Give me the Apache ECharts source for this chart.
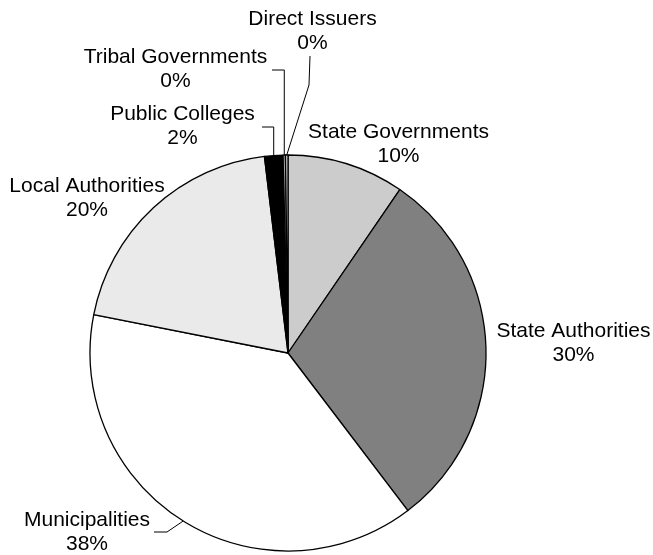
<!DOCTYPE html>
<html>
<head>
<meta charset="utf-8">
<script src="https://cdn.jsdelivr.net/npm/echarts@6/dist/echarts.min.js"></script>
<style>
  html, body { margin: 0; padding: 0; background: #ffffff; }
  #chart { width: 653px; height: 555px; }
</style>
</head>
<body>
<div id="chart"></div>
<script>
// Issuer categories, clockwise from twelve o'clock
const categories = [
  'State Governments',
  'State Authorities',
  'Municipalities',
  'Local Authorities',
  'Public Colleges',
  'Tribal Governments',
  'Direct Issuers'
];
// Share of issuance (percent)
const shares = [9.55, 30.1, 38.45, 20.0, 1.5, 0.2, 0.2];
// Slice fills
const fills = ['#cccccc', '#808080', '#ffffff', '#eaeaea', '#000000', '#a0a0a0', '#e0e0e0'];

// Where each two-line label sits (centre of text block)
const labelSpots = [
  [398.5, 144.5],
  [573.5, 343.5],
  [87, 532],
  [87, 198],
  [182.5, 126],
  [175.5, 69.5],
  [312.5, 31]
];
// Leader line bends (after the slice anchor); null = no leader line
const leaderBends = [
  null,
  null,
  [[167, 532], [154, 532]],
  null,
  [['anchor', 127], [262, 127]],
  [['anchor', 70], [272, 70]],
  [[309, 85], [310, 56]]
];

const chart = echarts.init(document.getElementById('chart'), null, { renderer: 'canvas' });

const seriesData = categories.map((name, i) => ({
  name: name,
  value: shares[i],
  itemStyle: { color: fills[i] },
  labelLine: { show: leaderBends[i] !== null }
}));

chart.setOption({
  animation: false,
  backgroundColor: '#ffffff',
  series: [{
    type: 'pie',
    center: [288, 353],
    radius: 198,
    startAngle: 90,
    clockwise: true,
    avoidLabelOverlap: false,
    data: seriesData,
    itemStyle: { borderColor: '#000000', borderWidth: 1.3 },
    emphasis: { disabled: true },
    label: {
      show: true,
      position: 'outside',
      color: '#000000',
      fontFamily: '"Liberation Sans", Arial, sans-serif',
      fontSize: 21,
      lineHeight: 24,
      align: 'center',
      formatter: p => p.name + '\n' + Math.round(p.percent) + '%'
    },
    labelLine: {
      show: true,
      lineStyle: { color: '#000000', width: 1 }
    },
    labelLayout: function (params) {
      const i = params.dataIndex;
      const spot = labelSpots[i];
      const out = { x: spot[0], y: spot[1], align: 'center', verticalAlign: 'middle' };
      const bends = leaderBends[i];
      if (bends && params.labelLinePoints) {
        const a = params.labelLinePoints[0];
        out.labelLinePoints = [[a[0], a[1]]].concat(
          bends.map(b => [b[0] === 'anchor' ? a[0] : b[0], b[1]])
        );
      }
      return out;
    }
  }]
});
</script>
</body>
</html>
